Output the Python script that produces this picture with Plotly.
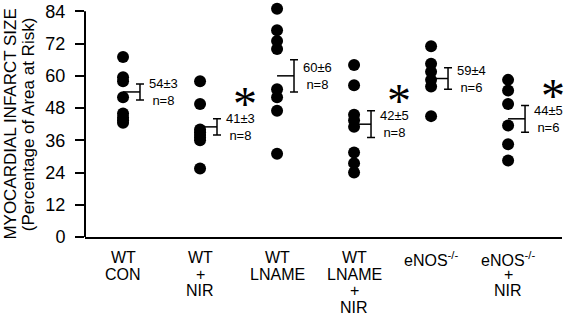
import plotly.graph_objects as go

categories = [["WT", "CON"], ["WT", "+", "NIR"], ["WT", "LNAME"],
              ["WT", "LNAME", "+", "NIR"], ["eNOS<sup>-/-</sup>"],
              ["eNOS<sup>-/-</sup>", "+", "NIR"]]
values = [
    [67, 59.5, 58, 52, 46, 44.5, 43.5, 42.5],
    [58, 49.5, 40, 39, 38, 37, 36, 25.5],
    [85, 77, 73, 70, 55, 52, 47, 31],
    [64, 56.5, 45.5, 43.5, 41, 31.5, 27.5, 24],
    [71, 64.5, 61.5, 58.5, 56, 45],
    [58.5, 54.5, 49.5, 41.5, 34.5, 28.5],
]
means = [54, 41, 60, 42, 59, 44]
sems = [3, 3, 6, 5, 4, 5]
ns = [8, 8, 8, 8, 6, 6]
significant = [False, True, False, True, False, True]
yticks = [0, 12, 24, 36, 48, 60, 72, 84]

FONT = "Liberation Sans, Arial, sans-serif"
EB = 0.22

fig = go.Figure()

# mean lines (from group centre to error bar)
mx, my = [], []
for i, m in enumerate(means):
    c = i + 1
    mx += [c, c + EB, None]
    my += [m, m, None]
fig.add_trace(go.Scatter(x=mx, y=my, mode="lines",
                         line=dict(color="black", width=1.5),
                         hoverinfo="skip", showlegend=False))

# error bars
fig.add_trace(go.Scatter(
    x=[i + 1 + EB for i in range(len(means))], y=means, mode="markers",
    marker=dict(size=1, color="rgba(0,0,0,0)"),
    error_y=dict(type="data", array=sems, visible=True, color="black",
                 thickness=1.5, width=4),
    showlegend=False, hoverinfo="skip"))

# individual points
px, py = [], []
for i, vals in enumerate(values):
    px += [i + 1] * len(vals)
    py += vals
fig.add_trace(go.Scatter(x=px, y=py, mode="markers",
                         marker=dict(size=12, color="black"),
                         showlegend=False, cliponaxis=False))

annotations = []
for i, m in enumerate(means):
    c = i + 1
    annotations.append(dict(
        x=c + 0.31, y=m, xref="x", yref="y", xanchor="left", yanchor="middle",
        text=f"{m}±{sems[i]}<br>n={ns[i]}", showarrow=False, align="center",
        font=dict(family=FONT, size=13, color="black")))
    if significant[i]:
        annotations.append(dict(
            x=c + 0.58, y=m, xref="x", yref="y", xanchor="center",
            yanchor="bottom", yshift=-5, text="*", showarrow=False,
            font=dict(family="Liberation Serif, Times New Roman, serif",
                      size=48, color="black")))
    for j, line in enumerate(categories[i]):
        annotations.append(dict(
            x=c, y=0, xref="x", yref="paper", xanchor="center", yanchor="top",
            yshift=-10 - 16.7 * j, text=line, showarrow=False,
            font=dict(family=FONT, size=16, color="black")))

# y-axis title (two lines)
annotations.append(dict(x=-0.157, y=0.5, xref="paper", yref="paper",
                        xanchor="center", yanchor="middle", textangle=-90,
                        yshift=-3,
                        text="MYOCARDIAL INFARCT SIZE", showarrow=False,
                        font=dict(family=FONT, size=17, color="black")))
annotations.append(dict(x=-0.118, y=0.5, xref="paper", yref="paper",
                        xanchor="center", yanchor="middle", textangle=-90,
                        yshift=-3,
                        text="(Percentage of Area at Risk)", showarrow=False,
                        font=dict(family=FONT, size=17, color="black")))

# y-axis line, ending at the top tick
shapes = [dict(type="line", xref="paper", yref="y", x0=0, x1=0,
               y0=yticks[0], y1=yticks[-1],
               line=dict(color="black", width=2))]

fig.update_layout(
    width=567, height=318,
    margin=dict(l=85, r=5, t=5.62, b=81, autoexpand=False),
    plot_bgcolor="white", paper_bgcolor="white",
    annotations=annotations, shapes=shapes,
    xaxis=dict(range=[0.506, 6.7], showgrid=False, zeroline=False,
               showticklabels=False, ticks="", showline=True,
               linecolor="black", linewidth=2, automargin=False),
    yaxis=dict(range=[0, 86], tickvals=yticks, showgrid=False,
               zeroline=False, showline=False, ticks="outside", ticklen=9,
               tickwidth=1.5, tickcolor="black", ticklabelstandoff=6,
               automargin=False,
               tickfont=dict(family=FONT, size=18, color="black")),
)

fig.write_html("out.html", config={"displayModeBar": False},
               post_script="document.body.style.margin='0';"
                           "document.body.style.overflow='hidden';")
